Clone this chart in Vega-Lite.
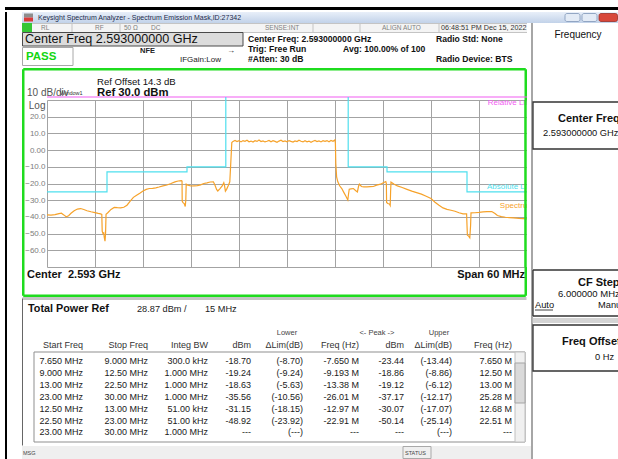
{
"$schema": "https://vega.github.io/schema/vega-lite/v6.json",
"padding": {"left": 5, "top": 7, "right": 0, "bottom": 0},
"autosize": {"type": "pad"},
"background": "#ffffff",
"config": {"view": {"stroke": null}, "font": "Liberation Sans", "text": {"font": "Liberation Sans", "align": "left", "baseline": "middle"}},
"datasets": {
"spectrum": [
{"f":-30,"p":-38.8},{"f":-29.5,"p":-38.9},{"f":-29,"p":-38.6},{"f":-28.5,"p":-38.0},{"f":-28.2,"p":-37.8},{"f":-27.9,"p":-38.8},{"f":-27.6,"p":-39.9},{"f":-27.3,"p":-39.3},{"f":-27.0,"p":-37.8},{"f":-26.6,"p":-36.3},{"f":-26.2,"p":-35.3},{"f":-25.8,"p":-35.0},{"f":-25.4,"p":-35.6},{"f":-25.0,"p":-36.3},{"f":-24.5,"p":-36.9},{"f":-24.0,"p":-37.4},{"f":-23.6,"p":-37.9},{"f":-23.3,"p":-38.2},{"f":-23.15,"p":-38.5},{"f":-23.1,"p":-48.5},{"f":-23.0,"p":-50},{"f":-22.9,"p":-49.5},{"f":-22.85,"p":-52},{"f":-22.75,"p":-54.5},{"f":-22.68,"p":-50},{"f":-22.62,"p":-38.4},{"f":-22.4,"p":-37.5},{"f":-22.0,"p":-35.5},{"f":-21.6,"p":-34.3},{"f":-21.2,"p":-34.5},{"f":-20.8,"p":-34.6},{"f":-20.4,"p":-34.2},{"f":-20.0,"p":-33.0},{"f":-19.6,"p":-30.5},{"f":-19.2,"p":-28.3},{"f":-18.8,"p":-27.0},{"f":-18.4,"p":-25.8},{"f":-18.0,"p":-24.5},{"f":-17.6,"p":-23.5},{"f":-17.2,"p":-23.0},{"f":-16.8,"p":-22.9},{"f":-16.4,"p":-22.6},{"f":-16.0,"p":-22.1},{"f":-15.5,"p":-21.4},{"f":-15.0,"p":-20.9},{"f":-14.5,"p":-20.0},{"f":-14.0,"p":-19.0},{"f":-13.6,"p":-18.5},{"f":-13.2,"p":-18.3},{"f":-13.12,"p":-18.6},{"f":-13.1,"p":-30.5},{"f":-13.0,"p":-31.5},{"f":-12.85,"p":-32.0},{"f":-12.72,"p":-33.8},{"f":-12.65,"p":-30},{"f":-12.6,"p":-20.4},{"f":-12.4,"p":-21.0},{"f":-12.0,"p":-21.5},{"f":-11.6,"p":-21.4},{"f":-11.2,"p":-21.3},{"f":-10.8,"p":-20.8},{"f":-10.4,"p":-20.0},{"f":-10.0,"p":-19.6},{"f":-9.6,"p":-19.1},{"f":-9.2,"p":-19.0},{"f":-9.0,"p":-21.0},{"f":-8.8,"p":-23.5},{"f":-8.65,"p":-24.5},{"f":-8.4,"p":-23.2},{"f":-8.1,"p":-21.5},{"f":-7.9,"p":-19.5},{"f":-7.82,"p":-21},{"f":-7.7,"p":-24.6},{"f":-7.55,"p":-23.5},{"f":-7.35,"p":-21.4},{"f":-7.15,"p":-19},{"f":-7.0,"p":-5},{"f":-6.9,"p":4.5},
{"f":-6.75,"p":5.2},{"f":-6.5,"p":5.8},{"f":-6.25,"p":5.1},{"f":-6.0,"p":5.6},{"f":-5.75,"p":4.9},{"f":-5.5,"p":5.7},{"f":-5.25,"p":5.3},{"f":-5.0,"p":5.9},{"f":-4.75,"p":5.0},{"f":-4.5,"p":5.4},{"f":-4.25,"p":4.8},{"f":-4.0,"p":5.6},{"f":-3.75,"p":5.2},{"f":-3.5,"p":6.0},{"f":-3.25,"p":5.1},{"f":-3.0,"p":5.5},{"f":-2.75,"p":4.9},{"f":-2.5,"p":5.3},{"f":-2.25,"p":5.8},{"f":-2.0,"p":5.0},{"f":-1.75,"p":5.6},{"f":-1.5,"p":5.2},{"f":-1.25,"p":4.7},{"f":-1.0,"p":5.4},{"f":-0.75,"p":5.9},{"f":-0.5,"p":5.1},{"f":-0.25,"p":5.5},{"f":0,"p":5.0},{"f":0.25,"p":5.7},{"f":0.5,"p":5.2},{"f":0.75,"p":4.8},{"f":1.0,"p":5.5},{"f":1.25,"p":5.1},{"f":1.5,"p":5.9},{"f":1.75,"p":5.3},{"f":2.0,"p":4.9},{"f":2.25,"p":5.6},{"f":2.5,"p":5.0},{"f":2.75,"p":5.4},{"f":3.0,"p":4.7},{"f":3.25,"p":5.3},{"f":3.5,"p":5.8},{"f":3.75,"p":5.1},{"f":4.0,"p":5.5},{"f":4.25,"p":4.9},{"f":4.5,"p":5.6},{"f":4.75,"p":5.2},{"f":5.0,"p":5.7},{"f":5.25,"p":5.0},{"f":5.5,"p":5.8},{"f":5.75,"p":5.3},{"f":6.0,"p":6.1},
{"f":6.05,"p":4.0},{"f":6.1,"p":-8},{"f":6.2,"p":-16},{"f":6.35,"p":-19},{"f":6.6,"p":-21.5},{"f":6.85,"p":-23},{"f":7.1,"p":-25.3},{"f":7.35,"p":-27.5},{"f":7.6,"p":-29.9},{"f":7.7,"p":-26},{"f":7.78,"p":-23.4},{"f":8.0,"p":-23.2},{"f":8.3,"p":-23.0},{"f":8.6,"p":-24.3},{"f":8.8,"p":-25.0},{"f":8.95,"p":-21.5},{"f":9.05,"p":-20.4},{"f":9.3,"p":-21.8},{"f":9.6,"p":-22.0},{"f":10.0,"p":-22.0},{"f":10.4,"p":-21.9},{"f":10.8,"p":-21.8},{"f":11.2,"p":-21.0},{"f":11.7,"p":-20.4},{"f":12.1,"p":-19.4},{"f":12.35,"p":-18.8},{"f":12.42,"p":-20},{"f":12.45,"p":-31.3},{"f":12.6,"p":-32.0},{"f":12.8,"p":-32.3},{"f":12.9,"p":-33.2},{"f":12.95,"p":-25},{"f":13.0,"p":-19.2},{"f":13.4,"p":-20.5},{"f":13.8,"p":-21.4},{"f":14.4,"p":-22.4},{"f":15.0,"p":-23.5},{"f":15.6,"p":-24.6},{"f":16.2,"p":-25.5},{"f":16.8,"p":-26.4},{"f":17.4,"p":-27.6},{"f":18.0,"p":-29.0},{"f":18.5,"p":-31.2},{"f":19.0,"p":-33.0},{"f":19.5,"p":-34.6},{"f":20.0,"p":-35.5},{"f":20.5,"p":-36.0},{"f":21.0,"p":-36.6},{"f":21.5,"p":-37.5},{"f":22.0,"p":-38.2},{"f":22.45,"p":-38.2},{"f":22.5,"p":-45},{"f":22.55,"p":-51},{"f":22.7,"p":-51.5},{"f":22.85,"p":-52.5},{"f":22.95,"p":-45},{"f":23.0,"p":-37.6},{"f":23.5,"p":-37.5},{"f":24.0,"p":-37.3},{"f":24.5,"p":-37.0},{"f":25.0,"p":-36.9},{"f":25.6,"p":-36.8},{"f":26.0,"p":-38.0},{"f":26.3,"p":-39.2},{"f":26.8,"p":-39.8},{"f":27.3,"p":-40.2},{"f":27.8,"p":-40.4},{"f":28.3,"p":-40.6},{"f":29.0,"p":-40.9},{"f":29.5,"p":-41.0},{"f":30.0,"p":-41.2}
],
"absLimit": [
{"seg":"L","i":0,"f":-30,"p":-25},{"seg":"L","i":1,"f":-22.5,"p":-25},{"seg":"L","i":2,"f":-22.5,"p":-13},{"seg":"L","i":3,"f":-12.5,"p":-13},{"seg":"L","i":4,"f":-12.5,"p":-10},{"seg":"L","i":5,"f":-7.65,"p":-10},{"seg":"L","i":6,"f":-7.65,"p":31.8},
{"seg":"R","i":0,"f":7.65,"p":31.8},{"seg":"R","i":1,"f":7.65,"p":-10},{"seg":"R","i":2,"f":12.5,"p":-10},{"seg":"R","i":3,"f":12.5,"p":-13},{"seg":"R","i":4,"f":22.5,"p":-13},{"seg":"R","i":5,"f":22.5,"p":-25},{"seg":"R","i":6,"f":30,"p":-25}
],
"relLimit": [{"f":-30,"p":31.8},{"f":30,"p":31.8}],
"traceLabels": [{"f":25.1,"p":28.3,"t":"Relative Limit"},{"f":25.0,"p":-21.8,"t":"Absolute Limit"},{"f":26.6,"p":-33.7,"t":"Spectrum"}],
"table": [
{"row":0,"col":1,"v":"Start Freq"},{"row":0,"col":2,"v":"Stop Freq"},{"row":0,"col":3,"v":"Integ BW"},{"row":0,"col":4,"v":"dBm"},{"row":0,"col":5,"v":"ΔLim(dB)"},{"row":0,"col":6,"v":"Freq (Hz)"},{"row":0,"col":7,"v":"dBm"},{"row":0,"col":8,"v":"ΔLim(dB)"},{"row":0,"col":9,"v":"Freq (Hz)"},
{"row":1,"col":1,"v":"7.650 MHz"},{"row":1,"col":2,"v":"9.000 MHz"},{"row":1,"col":3,"v":"300.0 kHz"},{"row":1,"col":4,"v":"-18.70"},{"row":1,"col":5,"v":"(-8.70)"},{"row":1,"col":6,"v":"-7.650 M"},{"row":1,"col":7,"v":"-23.44"},{"row":1,"col":8,"v":"(-13.44)"},{"row":1,"col":9,"v":"7.650 M"},
{"row":2,"col":1,"v":"9.000 MHz"},{"row":2,"col":2,"v":"12.50 MHz"},{"row":2,"col":3,"v":"1.000 MHz"},{"row":2,"col":4,"v":"-19.24"},{"row":2,"col":5,"v":"(-9.24)"},{"row":2,"col":6,"v":"-9.193 M"},{"row":2,"col":7,"v":"-18.86"},{"row":2,"col":8,"v":"(-8.86)"},{"row":2,"col":9,"v":"12.50 M"},
{"row":3,"col":1,"v":"13.00 MHz"},{"row":3,"col":2,"v":"22.50 MHz"},{"row":3,"col":3,"v":"1.000 MHz"},{"row":3,"col":4,"v":"-18.63"},{"row":3,"col":5,"v":"(-5.63)"},{"row":3,"col":6,"v":"-13.38 M"},{"row":3,"col":7,"v":"-19.12"},{"row":3,"col":8,"v":"(-6.12)"},{"row":3,"col":9,"v":"13.00 M"},
{"row":4,"col":1,"v":"23.00 MHz"},{"row":4,"col":2,"v":"30.00 MHz"},{"row":4,"col":3,"v":"1.000 MHz"},{"row":4,"col":4,"v":"-35.56"},{"row":4,"col":5,"v":"(-10.56)"},{"row":4,"col":6,"v":"-26.01 M"},{"row":4,"col":7,"v":"-37.17"},{"row":4,"col":8,"v":"(-12.17)"},{"row":4,"col":9,"v":"25.28 M"},
{"row":5,"col":1,"v":"12.50 MHz"},{"row":5,"col":2,"v":"13.00 MHz"},{"row":5,"col":3,"v":"51.00 kHz"},{"row":5,"col":4,"v":"-31.15"},{"row":5,"col":5,"v":"(-18.15)"},{"row":5,"col":6,"v":"-12.97 M"},{"row":5,"col":7,"v":"-30.07"},{"row":5,"col":8,"v":"(-17.07)"},{"row":5,"col":9,"v":"12.68 M"},
{"row":6,"col":1,"v":"22.50 MHz"},{"row":6,"col":2,"v":"23.00 MHz"},{"row":6,"col":3,"v":"51.00 kHz"},{"row":6,"col":4,"v":"-48.92"},{"row":6,"col":5,"v":"(-23.92)"},{"row":6,"col":6,"v":"-22.91 M"},{"row":6,"col":7,"v":"-50.14"},{"row":6,"col":8,"v":"(-25.14)"},{"row":6,"col":9,"v":"22.51 M"},
{"row":7,"col":1,"v":"23.00 MHz"},{"row":7,"col":2,"v":"30.00 MHz"},{"row":7,"col":3,"v":"1.000 MHz"},{"row":7,"col":4,"v":"---"},{"row":7,"col":5,"v":"(---)"},{"row":7,"col":6,"v":"---"},{"row":7,"col":7,"v":"---"},{"row":7,"col":8,"v":"(---)"},{"row":7,"col":9,"v":"---"}
]
},
"columns": 3,
"spacing": 0,
"bounds": "flush",
"concat": [
{"width": 17, "height": 5, "view": {"fill": {"gradient": "linear", "x1": 0, "y1": 0, "x2": 0, "y2": 1, "stops": [{"offset": 0, "color": "#000000"}, {"offset": 0.6, "color": "#000000"}, {"offset": 0.6, "color": "#ffffff"}, {"offset": 1, "color": "#ffffff"}]}}, "data": {"values": [{}]}, "mark": {"type": "text", "text": "", "fontSize": 1}},
{"width": 505, "height": 5, "view": {"fill": {"gradient": "linear", "x1": 0, "y1": 0, "x2": 0, "y2": 1, "stops": [{"offset": 0, "color": "#000000"}, {"offset": 0.6, "color": "#000000"}, {"offset": 0.6, "color": "#ffffff"}, {"offset": 1, "color": "#ffffff"}]}}, "data": {"values": [{}]}, "mark": {"type": "text", "text": "", "fontSize": 1}},
{"width": 91, "height": 5, "view": {"fill": {"gradient": "linear", "x1": 0, "y1": 0, "x2": 0, "y2": 1, "stops": [{"offset": 0, "color": "#000000"}, {"offset": 0.6, "color": "#000000"}, {"offset": 0.6, "color": "#ffffff"}, {"offset": 1, "color": "#ffffff"}]}}, "data": {"values": [{}]}, "mark": {"type": "text", "text": "", "fontSize": 1}},

{"width": 17, "height": 11, "view": {"fill": {"gradient": "linear", "x1": 0, "y1": 0, "x2": 1, "y2": 0, "stops": [{"offset": 0, "color": "#000000"}, {"offset": 0.118, "color": "#000000"}, {"offset": 0.118, "color": "#ffffff"}, {"offset": 1, "color": "#ffffff"}]}}, "data": {"values": [{}]}, "mark": {"type": "text", "text": "", "fontSize": 1}},
{"width": 505, "height": 11,
 "view": {"fill": {"gradient": "linear", "x1": 0, "y1": 0, "x2": 0, "y2": 1, "stops": [{"offset": 0, "color": "#e8eff9"}, {"offset": 1, "color": "#c2d2e9"}]}},
 "encoding": {
  "x": {"field": "c", "type": "quantitative", "scale": {"domain": [0,1,2], "range": [2,11,16], "nice": false, "zero": false}, "axis": null},
  "y": {"field": "r", "type": "quantitative", "scale": {"domain": [0,1,2], "range": [1.5,5.5,9.5], "nice": false, "zero": false}, "axis": null}
 },
 "layer": [
  {"data": {"values": [{"c":0,"c2":1,"r":0,"r2":1}]}, "mark": {"type": "rect", "fill": "#8d8d8d"}, "encoding": {"x2": {"field": "c2"}, "y2": {"field": "r2"}}},
  {"data": {"values": [{"c":0,"c2":1,"r":1,"r2":2}]}, "mark": {"type": "rect", "fill": "#d83a3a"}, "encoding": {"x2": {"field": "c2"}, "y2": {"field": "r2"}}},
  {"data": {"values": [{"c":2,"r":1,"t":"Keysight Spectrum Analyzer - Spectrum Emission Mask,ID:27342"}]}, "mark": {"type": "text", "fontSize": 7, "color": "#1d2b4c"}, "encoding": {"text": {"field": "t"}}}
 ]
},
{"width": 91, "height": 11,
 "view": {"fill": {"gradient": "linear", "x1": 0, "y1": 0, "x2": 0, "y2": 1, "stops": [{"offset": 0, "color": "#e8eff9"}, {"offset": 1, "color": "#c2d2e9"}]}},
 "encoding": {
  "x": {"field": "c", "type": "quantitative", "scale": {"domain": [0,1,2,3,4,5], "range": [38,53,55,70,72,90.5], "nice": false, "zero": false}, "axis": null},
  "y": {"field": "r", "type": "quantitative", "scale": {"domain": [0,1], "range": [1.5,9.5], "nice": false, "zero": false}, "axis": null}
 },
 "layer": [
  {"data": {"values": [{"c":0,"c2":1,"r":0,"r2":1},{"c":2,"c2":3,"r":0,"r2":1}]}, "mark": {"type": "rect", "fill": "#e3ebf6", "stroke": "#7f95b8", "strokeWidth": 0.8, "cornerRadius": 2}, "encoding": {"x2": {"field": "c2"}, "y2": {"field": "r2"}}},
  {"data": {"values": [{"c":4,"c2":5,"r":0,"r2":1}]}, "mark": {"type": "rect", "fill": "#d8473b", "stroke": "#9b2f27", "strokeWidth": 0.8, "cornerRadius": 2}, "encoding": {"x2": {"field": "c2"}, "y2": {"field": "r2"}}}
 ]
},

{"width": 17, "height": 9, "view": {"fill": {"gradient": "linear", "x1": 0, "y1": 0, "x2": 1, "y2": 0, "stops": [{"offset": 0, "color": "#000000"}, {"offset": 0.118, "color": "#000000"}, {"offset": 0.118, "color": "#ffffff"}, {"offset": 1, "color": "#ffffff"}]}}, "data": {"values": [{}]}, "mark": {"type": "text", "text": "", "fontSize": 1}},
{"width": 505, "height": 9,
 "view": {"fill": "#f4f4f4", "stroke": "#c4c4c4"},
 "encoding": {
  "x": {"field": "c", "type": "quantitative", "scale": {"domain": [0,1,2,3,4,5,6,7,8,9,10,11,12,13], "range": [0,10,19,50,73,98,102,129,243,291,338,360,417,419], "nice": false, "zero": false}, "axis": null},
  "y": {"field": "r", "type": "quantitative", "scale": {"domain": [0,1,2], "range": [0,4.5,9], "nice": false, "zero": false}, "axis": null}
 },
 "layer": [
  {"data": {"values": [{"c":0,"c2":1,"r":0,"r2":2}]}, "mark": {"type": "rect", "fill": "#36c636"}, "encoding": {"x2": {"field": "c2"}, "y2": {"field": "r2"}}},
  {"data": {"values": [{"c":3,"r":0,"r2":2},{"c":5,"r":0,"r2":2},{"c":9,"r":0,"r2":2},{"c":10,"r":0,"r2":2},{"c":12,"r":0,"r2":2}]}, "mark": {"type": "rule", "color": "#c4c4c4", "strokeWidth": 1}, "encoding": {"y2": {"field": "r2"}}},
  {"data": {"values": [{"c":2,"r":1,"t":"RL"},{"c":4,"r":1,"t":"RF"},{"c":6,"r":1,"t":"50 Ω"},{"c":7,"r":1,"t":"DC"},{"c":8,"r":1,"t":"SENSE:INT"},{"c":11,"r":1,"t":"ALIGN AUTO"}]}, "mark": {"type": "text", "fontSize": 6.5, "color": "#808080"}, "encoding": {"text": {"field": "t"}}},
  {"data": {"values": [{"c":13,"r":1,"t":"06:48:51 PM Dec 15, 2022"}]}, "mark": {"type": "text", "fontSize": 7.2, "color": "#333333"}, "encoding": {"text": {"field": "t"}}}
 ]
},
{"width": 91, "height": 9, "view": {"fill": {"gradient": "linear", "x1": 0, "y1": 0, "x2": 1, "y2": 0, "stops": [{"offset": 0, "color": "#ffffff"}, {"offset": 0.04, "color": "#ffffff"}, {"offset": 0.04, "color": "#a6a6a6"}, {"offset": 0.062, "color": "#a6a6a6"}, {"offset": 0.062, "color": "#ffffff"}, {"offset": 1, "color": "#ffffff"}]}}, "data": {"values": [{}]}, "mark": {"type": "text", "text": "", "fontSize": 1}},

{"width": 17, "height": 36, "view": {"fill": {"gradient": "linear", "x1": 0, "y1": 0, "x2": 1, "y2": 0, "stops": [{"offset": 0, "color": "#000000"}, {"offset": 0.118, "color": "#000000"}, {"offset": 0.118, "color": "#ffffff"}, {"offset": 1, "color": "#ffffff"}]}}, "data": {"values": [{}]}, "mark": {"type": "text", "text": "", "fontSize": 1}},
{"width": 505, "height": 36,
 "encoding": {
  "x": {"field": "c", "type": "quantitative", "scale": {"domain": [0,1,2,3,4,5,6,7,8,9,10], "range": [0.5,3,4,51,118,158,205,221,226,321,414], "nice": false, "zero": false}, "axis": null},
  "y": {"field": "r", "type": "quantitative", "scale": {"domain": [0,1,2,3,4,5,6,7,8,9], "range": [0.5,7,14,15.5,16.5,19,24.5,27.3,28,33.5], "nice": false, "zero": false}, "axis": null}
 },
 "layer": [
  {"data": {"values": [{"c":0,"c2":7,"r":0,"r2":2}]}, "mark": {"type": "rect", "fill": "#dcdcdc", "stroke": "#4a4a4a", "strokeWidth": 1}, "encoding": {"x2": {"field": "c2"}, "y2": {"field": "r2"}}},
  {"data": {"values": [{"c":0,"c2":3,"r":3,"r2":9}]}, "mark": {"type": "rect", "fill": "#ffffff", "stroke": "#a8a8a8", "strokeWidth": 1}, "encoding": {"x2": {"field": "c2"}, "y2": {"field": "r2"}}},
  {"data": {"values": [{"c":1,"r":1,"t":"Center Freq 2.593000000 GHz"}]}, "mark": {"type": "text", "fontSize": 12.6, "color": "#111111"}, "encoding": {"text": {"field": "t"}}},
  {"data": {"values": [{"c":2,"r":6,"t":"PASS"}]}, "mark": {"type": "text", "fontSize": 11.5, "fontWeight": "bold", "color": "#12d612"}, "encoding": {"text": {"field": "t"}}},
  {"data": {"values": [{"c":4,"r":5,"t":"NFE"}]}, "mark": {"type": "text", "fontSize": 7.5, "fontWeight": "bold", "color": "#222222"}, "encoding": {"text": {"field": "t"}}},
  {"data": {"values": [{"c":5,"r":8,"t":"IFGain:Low"},{"c":6,"r":5,"t":"→"}]}, "mark": {"type": "text", "fontSize": 8, "color": "#222222"}, "encoding": {"text": {"field": "t"}}},
  {"data": {"values": [{"c":8,"r":1,"t":"Center Freq: 2.593000000 GHz"},{"c":8,"r":4,"t":"Trig: Free Run"},{"c":8,"r":7,"t":"#Atten: 30 dB"},{"c":9,"r":4,"t":"Avg: 100.00% of 100"},{"c":10,"r":1,"t":"Radio Std: None"},{"c":10,"r":7,"t":"Radio Device: BTS"}]}, "mark": {"type": "text", "fontSize": 8.6, "fontWeight": "bold", "color": "#111111"}, "encoding": {"text": {"field": "t"}}}
 ]
},
{"width": 91, "height": 36,
 "view": {"fill": {"gradient": "linear", "x1": 0, "y1": 0, "x2": 1, "y2": 0, "stops": [{"offset": 0, "color": "#ffffff"}, {"offset": 0.04, "color": "#ffffff"}, {"offset": 0.04, "color": "#a6a6a6"}, {"offset": 0.062, "color": "#a6a6a6"}, {"offset": 0.062, "color": "#ffffff"}, {"offset": 1, "color": "#ffffff"}]}},
 "encoding": {
  "x": {"field": "c", "type": "quantitative", "scale": {"domain": [0,1], "range": [51,52], "nice": false, "zero": false}, "axis": null},
  "y": {"field": "r", "type": "quantitative", "scale": {"domain": [0,1], "range": [3,4], "nice": false, "zero": false}, "axis": null}
 },
 "layer": [
  {"data": {"values": [{"c":0,"r":0,"t":"Frequency"}]}, "mark": {"type": "text", "fontSize": 10, "align": "center", "color": "#111111"}, "encoding": {"text": {"field": "t"}}}
 ]
},

{"width": 17, "height": 32, "view": {"fill": {"gradient": "linear", "x1": 0, "y1": 0, "x2": 1, "y2": 0, "stops": [{"offset": 0, "color": "#000000"}, {"offset": 0.118, "color": "#000000"}, {"offset": 0.118, "color": "#ffffff"}, {"offset": 1, "color": "#ffffff"}]}}, "data": {"values": [{}]}, "mark": {"type": "text", "text": "", "fontSize": 1}},
{"width": 505, "height": 32,
 "encoding": {
  "x": {"field": "c", "type": "quantitative", "scale": {"domain": [0,1,2,3,4], "range": [1.25,5,38,75,503.75], "nice": false, "zero": false}, "axis": null},
  "y": {"field": "r", "type": "quantitative", "scale": {"domain": [0,1,2,3], "range": [1.25,14,25,32], "nice": false, "zero": false}, "axis": null}
 },
 "layer": [
  {"data": {"values": [{"c":0,"c2":4,"r":0}]}, "mark": {"type": "rule", "color": "#1fdc1f", "strokeWidth": 2.5}, "encoding": {"x2": {"field": "c2"}}},
  {"data": {"values": [{"c":0,"r":0,"r2":3},{"c":4,"r":0,"r2":3}]}, "mark": {"type": "rule", "color": "#1fdc1f", "strokeWidth": 2.5}, "encoding": {"y2": {"field": "r2"}}},
  {"data": {"values": [{"c":3,"r":1,"t":"Ref Offset 14.3 dB"}]}, "mark": {"type": "text", "fontSize": 9.6, "color": "#111111"}, "encoding": {"text": {"field": "t"}}},
  {"data": {"values": [{"c":3,"r":2,"t":"Ref 30.0 dBm"}]}, "mark": {"type": "text", "fontSize": 11.3, "fontWeight": "bold", "color": "#111111"}, "encoding": {"text": {"field": "t"}}},
  {"data": {"values": [{"c":1,"r":2,"t":"10 dB/div"}]}, "mark": {"type": "text", "fontSize": 10, "color": "#555555"}, "encoding": {"text": {"field": "t"}}},
  {"data": {"values": [{"c":2,"r":2,"t":"Window1"}]}, "mark": {"type": "text", "fontSize": 5.5, "color": "#333333"}, "encoding": {"text": {"field": "t"}}}
 ]
},
{"width": 91, "height": 32, "view": {"fill": {"gradient": "linear", "x1": 0, "y1": 0, "x2": 1, "y2": 0, "stops": [{"offset": 0, "color": "#ffffff"}, {"offset": 0.04, "color": "#ffffff"}, {"offset": 0.04, "color": "#a6a6a6"}, {"offset": 0.062, "color": "#a6a6a6"}, {"offset": 0.062, "color": "#ffffff"}, {"offset": 1, "color": "#ffffff"}]}}, "data": {"values": [{}]}, "mark": {"type": "text", "text": "", "fontSize": 1}},

{"width": 17, "height": 167, "view": {"fill": {"gradient": "linear", "x1": 0, "y1": 0, "x2": 1, "y2": 0, "stops": [{"offset": 0, "color": "#000000"}, {"offset": 0.118, "color": "#000000"}, {"offset": 0.118, "color": "#ffffff"}, {"offset": 1, "color": "#ffffff"}]}}, "data": {"values": [{}]}, "mark": {"type": "text", "text": "", "fontSize": 1}},
{"width": 505, "height": 167,
 "view": {"fill": "#ffffff"},
 "layer": [
  {"data": {"name": "spectrum"}, "mark": {"type": "line", "color": "#f6a22a", "strokeWidth": 1.2},
   "encoding": {
    "x": {"field": "f", "type": "quantitative", "scale": {"domain": [-30, 30], "range": [25, 505], "nice": false, "zero": false},
          "axis": {"values": [-30,-24,-18,-12,-6,0,6,12,18,24,30], "tickCount": 30, "grid": true, "gridColor": "#a3a3a3", "gridWidth": 1, "labels": false, "ticks": false, "domain": false, "title": null}},
    "y": {"field": "p", "type": "quantitative", "scale": {"domain": [-70, 30], "nice": false, "zero": false},
          "axis": {"values": [-70,-60,-50,-40,-30,-20,-10,0,10,20,30], "tickCount": 30, "grid": true, "gridColor": "#a3a3a3", "gridWidth": 1, "ticks": false, "domain": false, "title": null, "offset": -23,
                   "labelExpr": "datum.value == 30 ? 'Log' : (datum.value == -70 ? '' : (datum.value == 0 ? '0.00' : format(datum.value, '.1f')))",
                   "labelFontSize": {"condition": {"test": "datum.value == 30", "value": 10}, "value": 8},
                   "labelColor": {"condition": {"test": "datum.value == 30", "value": "#555555"}, "value": "#7d7d7d"},
                   "labelBaseline": {"condition": {"test": "datum.value == 30", "value": "top"}, "value": "middle"},
                   "labelPadding": 0, "labelAlign": "right", "labelFlush": false, "labelOverlap": false, "labelFont": "Liberation Sans"}}
   }},
  {"data": {"name": "relLimit"}, "mark": {"type": "line", "color": "#f25cf2", "strokeWidth": 1.2, "clip": false},
   "encoding": {"x": {"field": "f", "type": "quantitative", "scale": {"domain": [-30, 30], "range": [25, 505], "nice": false, "zero": false}, "title": null},
                "y": {"field": "p", "type": "quantitative", "scale": {"domain": [-70, 30], "nice": false, "zero": false}, "title": null}}},
  {"data": {"name": "absLimit"}, "mark": {"type": "line", "color": "#4fdfee", "strokeWidth": 1.2, "clip": false},
   "encoding": {"x": {"field": "f", "type": "quantitative", "scale": {"domain": [-30, 30], "range": [25, 505], "nice": false, "zero": false}, "title": null},
                "y": {"field": "p", "type": "quantitative", "scale": {"domain": [-70, 30], "nice": false, "zero": false}, "title": null},
                "detail": {"field": "seg"}, "order": {"field": "i", "type": "quantitative"}}},
  {"data": {"name": "traceLabels"}, "mark": {"type": "text", "fontSize": 8, "clip": true},
   "encoding": {"x": {"field": "f", "type": "quantitative", "scale": {"domain": [-30, 30], "range": [25, 505], "nice": false, "zero": false}, "title": null},
                "y": {"field": "p", "type": "quantitative", "scale": {"domain": [-70, 30], "nice": false, "zero": false}, "title": null},
                "text": {"field": "t"}, "color": {"field": "t", "type": "nominal", "scale": {"domain": ["Relative Limit","Absolute Limit","Spectrum"], "range": ["#f25cf2","#4fdfee","#f6a22a"]}, "legend": null}}},
  {"data": {"values": [{}]}, "mark": {"type": "rule", "color": "#1fdc1f", "strokeWidth": 2.5}, "encoding": {"x": {"datum": -32.97}}},
  {"data": {"values": [{}]}, "mark": {"type": "rule", "color": "#1fdc1f", "strokeWidth": 2.5}, "encoding": {"x": {"datum": 29.81}}}
 ]
},
{"width": 91, "height": 167,
 "view": {"fill": {"gradient": "linear", "x1": 0, "y1": 0, "x2": 1, "y2": 0, "stops": [{"offset": 0, "color": "#ffffff"}, {"offset": 0.04, "color": "#ffffff"}, {"offset": 0.04, "color": "#a6a6a6"}, {"offset": 0.062, "color": "#a6a6a6"}, {"offset": 0.062, "color": "#ffffff"}, {"offset": 1, "color": "#ffffff"}]}},
 "encoding": {
  "x": {"field": "c", "type": "quantitative", "scale": {"domain": [0,1,2,3], "range": [6,16,31,93], "nice": false, "zero": false}, "axis": null},
  "y": {"field": "r", "type": "quantitative", "scale": {"domain": [0,1,2,3], "range": [2,19,33,49], "nice": false, "zero": false}, "axis": null}
 },
 "layer": [
  {"data": {"values": [{"c":0,"c2":3,"r":0,"r2":3}]}, "mark": {"type": "rect", "fill": "#ffffff", "stroke": "#333333", "strokeWidth": 1.3, "clip": true}, "encoding": {"x2": {"field": "c2"}, "y2": {"field": "r2"}}},
  {"data": {"values": [{"c":2,"r":1,"t":"Center Freq"}]}, "mark": {"type": "text", "fontSize": 11, "fontWeight": "bold", "color": "#111111", "clip": true}, "encoding": {"text": {"field": "t"}}},
  {"data": {"values": [{"c":1,"r":2,"t":"2.593000000 GHz"}]}, "mark": {"type": "text", "fontSize": 9.3, "color": "#111111", "clip": true}, "encoding": {"text": {"field": "t"}}}
 ]
},

{"width": 17, "height": 30, "view": {"fill": {"gradient": "linear", "x1": 0, "y1": 0, "x2": 1, "y2": 0, "stops": [{"offset": 0, "color": "#000000"}, {"offset": 0.118, "color": "#000000"}, {"offset": 0.118, "color": "#ffffff"}, {"offset": 1, "color": "#ffffff"}]}}, "data": {"values": [{}]}, "mark": {"type": "text", "text": "", "fontSize": 1}},
{"width": 505, "height": 30,
 "encoding": {
  "x": {"field": "c", "type": "quantitative", "scale": {"domain": [0,1,2,3], "range": [1.25,5,503,503.75], "nice": false, "zero": false}, "axis": null},
  "y": {"field": "r", "type": "quantitative", "scale": {"domain": [0,1,2], "range": [0,8,28.75], "nice": false, "zero": false}, "axis": null}
 },
 "layer": [
  {"data": {"values": [{"c":0,"c2":3,"r":2}]}, "mark": {"type": "rule", "color": "#1fdc1f", "strokeWidth": 2.5}, "encoding": {"x2": {"field": "c2"}}},
  {"data": {"values": [{"c":0,"r":0,"r2":2},{"c":3,"r":0,"r2":2}]}, "mark": {"type": "rule", "color": "#1fdc1f", "strokeWidth": 2.5}, "encoding": {"y2": {"field": "r2"}}},
  {"data": {"values": [{"c":1,"r":1,"t":"Center\u00a0 2.593 GHz"}]}, "mark": {"type": "text", "fontSize": 11, "fontWeight": "bold", "color": "#111111"}, "encoding": {"text": {"field": "t"}}},
  {"data": {"values": [{"c":2,"r":1,"t":"Span 60 MHz"}]}, "mark": {"type": "text", "fontSize": 11, "fontWeight": "bold", "align": "right", "color": "#111111"}, "encoding": {"text": {"field": "t"}}}
 ]
},
{"width": 91, "height": 30,
 "view": {"fill": {"gradient": "linear", "x1": 0, "y1": 0, "x2": 1, "y2": 0, "stops": [{"offset": 0, "color": "#ffffff"}, {"offset": 0.04, "color": "#ffffff"}, {"offset": 0.04, "color": "#a6a6a6"}, {"offset": 0.062, "color": "#a6a6a6"}, {"offset": 0.062, "color": "#ffffff"}, {"offset": 1, "color": "#ffffff"}]}},
 "encoding": {
  "x": {"field": "c", "type": "quantitative", "scale": {"domain": [0,1,2,3], "range": [6,31,51,93], "nice": false, "zero": false}, "axis": null},
  "y": {"field": "r", "type": "quantitative", "scale": {"domain": [0,1,2,3], "range": [3,16,27,31], "nice": false, "zero": false}, "axis": null}
 },
 "layer": [
  {"data": {"values": [{"c":0,"c2":3,"r":0}]}, "mark": {"type": "rule", "color": "#333333", "strokeWidth": 1.3, "clip": true}, "encoding": {"x2": {"field": "c2"}}},
  {"data": {"values": [{"c":0,"r":0,"r2":3}]}, "mark": {"type": "rule", "color": "#333333", "strokeWidth": 1.3}, "encoding": {"y2": {"field": "r2"}}},
  {"data": {"values": [{"c":2,"r":1,"t":"CF Step"}]}, "mark": {"type": "text", "fontSize": 11, "fontWeight": "bold", "color": "#111111", "clip": true}, "encoding": {"text": {"field": "t"}}},
  {"data": {"values": [{"c":1,"r":2,"t":"6.000000 MHz"}]}, "mark": {"type": "text", "fontSize": 9.5, "color": "#111111", "clip": true}, "encoding": {"text": {"field": "t"}}}
 ]
},

{"width": 17, "height": 149, "view": {"fill": {"gradient": "linear", "x1": 0, "y1": 0, "x2": 1, "y2": 0, "stops": [{"offset": 0, "color": "#000000"}, {"offset": 0.118, "color": "#000000"}, {"offset": 0.118, "color": "#ffffff"}, {"offset": 1, "color": "#ffffff"}]}}, "data": {"values": [{}]}, "mark": {"type": "text", "text": "", "fontSize": 1}},
{"width": 505, "height": 149,
 "view": {"fill": "#ffffff"},
 "resolve": {"scale": {"x": "independent", "y": "independent"}},
 "layer": [
  {"encoding": {
    "x": {"field": "c", "type": "quantitative", "scale": {"domain": [0,1,2,3,4,5,6,7,8,9,10], "range": [0.5,6,12,115,183,265,355,417,493,503,504.5], "nice": false, "zero": false}, "axis": null},
    "y": {"field": "r", "type": "quantitative", "scale": {"domain": [0,1,2,3,4,5,6,7], "range": [1.5,12,36,55,66,106,145,148.5], "nice": false, "zero": false}, "axis": null}
   },
   "layer": [
    {"data": {"values": [{"c":0,"c2":10,"r":0}]}, "mark": {"type": "rule", "color": "#c4c4c4", "strokeWidth": 3}, "encoding": {"x2": {"field": "c2"}}},
    {"data": {"values": [{"c":0,"r":0,"r2":7}]}, "mark": {"type": "rule", "color": "#666666", "strokeWidth": 1}, "encoding": {"y2": {"field": "r2"}}},
    {"data": {"values": [{"c":2,"c2":9,"r":3,"r2":6}]}, "mark": {"type": "rect", "fill": "#ffffff", "stroke": "#8f8f8f", "strokeWidth": 1}, "encoding": {"x2": {"field": "c2"}, "y2": {"field": "r2"}}},
    {"data": {"values": [{"c":8,"c2":9,"r":3,"r2":6}]}, "mark": {"type": "rect", "fill": "#f0f0f0", "stroke": "#c0c0c0", "strokeWidth": 1}, "encoding": {"x2": {"field": "c2"}, "y2": {"field": "r2"}}},
    {"data": {"values": [{"c":8,"c2":9,"r":4,"r2":5}]}, "mark": {"type": "rect", "fill": "#dadada", "stroke": "#a5a5a5", "strokeWidth": 1}, "encoding": {"x2": {"field": "c2"}, "y2": {"field": "r2"}}},
    {"data": {"values": [{"c":1,"r":1,"t":"Total Power Ref"}]}, "mark": {"type": "text", "fontSize": 10.8, "fontWeight": "bold", "color": "#111111"}, "encoding": {"text": {"field": "t"}}},
    {"data": {"values": [{"c":3,"r":1,"t":"28.87 dBm /"},{"c":4,"r":1,"t":"15 MHz"}]}, "mark": {"type": "text", "fontSize": 9.2, "color": "#222222"}, "encoding": {"text": {"field": "t"}}},
    {"data": {"values": [{"c":5,"r":2,"t":"Lower"},{"c":6,"r":2,"t":"<- Peak ->"},{"c":7,"r":2,"t":"Upper"}]}, "mark": {"type": "text", "fontSize": 7.5, "align": "center", "color": "#444444"}, "encoding": {"text": {"field": "t"}}}
   ]
  },
  {"data": {"name": "table"},
   "encoding": {
    "x": {"field": "col", "type": "quantitative", "scale": {"domain": [1,2,3,4,5,6,7,8,9], "range": [61,126,186,229,281,337,382,430,490], "nice": false, "zero": false}, "axis": null},
    "y": {"field": "row", "type": "quantitative", "scale": {"domain": [0,1,7], "range": [48,64,135.4], "nice": false, "zero": false}, "axis": null},
    "text": {"field": "v"}
   },
   "layer": [
    {"transform": [{"filter": "datum.row == 0"}], "mark": {"type": "text", "fontSize": 9, "align": "right", "color": "#333333"}},
    {"transform": [{"filter": "datum.row > 0"}], "mark": {"type": "text", "fontSize": 9, "align": "right", "color": "#1a1a1a"}}
   ]
  }
 ]
},
{"width": 91, "height": 149,
 "view": {"fill": {"gradient": "linear", "x1": 0, "y1": 0, "x2": 1, "y2": 0, "stops": [{"offset": 0, "color": "#ffffff"}, {"offset": 0.04, "color": "#ffffff"}, {"offset": 0.04, "color": "#a6a6a6"}, {"offset": 0.062, "color": "#a6a6a6"}, {"offset": 0.062, "color": "#ffffff"}, {"offset": 1, "color": "#ffffff"}]}},
 "encoding": {
  "x": {"field": "c", "type": "quantitative", "scale": {"domain": [0,1,2,3,4,5,6,7], "range": [5.7,6,8,26,35,68,71,93], "nice": false, "zero": false}, "axis": null},
  "y": {"field": "r", "type": "quantitative", "scale": {"domain": [0,1,2,3,4,5,6,7,8,9], "range": [0,8,13,19,21,26,28,45,60,74], "nice": false, "zero": false}, "axis": null}
 },
 "layer": [
  {"data": {"values": [{"c":0,"c2":7,"r":4,"r2":5}]}, "mark": {"type": "rect", "fill": "#d4d4d4", "clip": true}, "encoding": {"x2": {"field": "c2"}, "y2": {"field": "r2"}}},
  {"data": {"values": [{"c":1,"r":0,"r2":3}]}, "mark": {"type": "rule", "color": "#333333", "strokeWidth": 1.3}, "encoding": {"y2": {"field": "r2"}}},
  {"data": {"values": [{"c":1,"c2":7,"r":3}]}, "mark": {"type": "rule", "color": "#333333", "strokeWidth": 1.3, "clip": true}, "encoding": {"x2": {"field": "c2"}}},
  {"data": {"values": [{"c":1,"c2":7,"r":6,"r2":9}]}, "mark": {"type": "rect", "fill": "#ffffff", "stroke": "#333333", "strokeWidth": 1.3, "clip": true}, "encoding": {"x2": {"field": "c2"}, "y2": {"field": "r2"}}},
  {"data": {"values": [{"c":2,"c2":3,"r":2}]}, "mark": {"type": "rule", "color": "#111111", "strokeWidth": 0.8}, "encoding": {"x2": {"field": "c2"}}},
  {"data": {"values": [{"c":2,"r":1,"t":"Auto"},{"c":6,"r":1,"t":"Manual"},{"c":5,"r":8,"t":"0 Hz"}]}, "mark": {"type": "text", "fontSize": 9.3, "color": "#111111", "clip": true}, "encoding": {"text": {"field": "t"}}},
  {"data": {"values": [{"c":4,"r":7,"t":"Freq Offset"}]}, "mark": {"type": "text", "fontSize": 11, "fontWeight": "bold", "color": "#111111", "clip": true}, "encoding": {"text": {"field": "t"}}}
 ]
},

{"width": 17, "height": 13, "view": {"fill": {"gradient": "linear", "x1": 0, "y1": 0, "x2": 1, "y2": 0, "stops": [{"offset": 0, "color": "#000000"}, {"offset": 0.118, "color": "#000000"}, {"offset": 0.118, "color": "#ffffff"}, {"offset": 1, "color": "#ffffff"}]}}, "data": {"values": [{}]}, "mark": {"type": "text", "text": "", "fontSize": 1}},
{"width": 505, "height": 13,
 "view": {"fill": "#efefef"},
 "encoding": {
  "x": {"field": "c", "type": "quantitative", "scale": {"domain": [0,1,2,3], "range": [1,381,383,409], "nice": false, "zero": false}, "axis": null},
  "y": {"field": "r", "type": "quantitative", "scale": {"domain": [0,1,2], "range": [0.5,6.5,12.5], "nice": false, "zero": false}, "axis": null}
 },
 "layer": [
  {"data": {"values": [{"c":1,"c2":3,"r":0,"r2":2}]}, "mark": {"type": "rect", "fill": "#efefef", "stroke": "#a9a9a9", "strokeWidth": 1}, "encoding": {"x2": {"field": "c2"}, "y2": {"field": "r2"}}},
  {"data": {"values": [{"c":0,"r":1,"t":"MSG"},{"c":2,"r":1,"t":"STATUS"}]}, "mark": {"type": "text", "fontSize": 5.5, "color": "#444444"}, "encoding": {"text": {"field": "t"}}}
 ]
},
{"width": 91, "height": 13, "view": {"fill": {"gradient": "linear", "x1": 0, "y1": 0, "x2": 1, "y2": 0, "stops": [{"offset": 0, "color": "#efefef"}, {"offset": 0.04, "color": "#efefef"}, {"offset": 0.04, "color": "#a6a6a6"}, {"offset": 0.062, "color": "#a6a6a6"}, {"offset": 0.062, "color": "#ffffff"}, {"offset": 1, "color": "#ffffff"}]}}, "data": {"values": [{}]}, "mark": {"type": "text", "text": "", "fontSize": 1}}
]
}
